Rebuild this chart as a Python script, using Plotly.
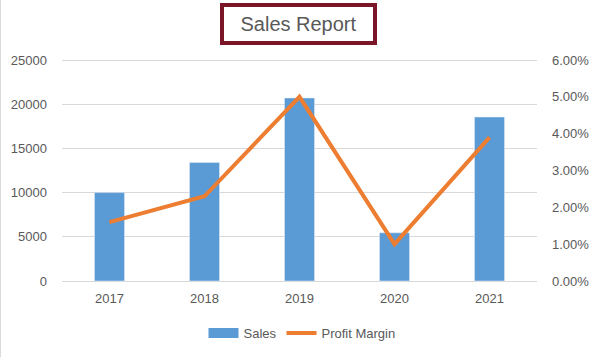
import plotly.graph_objects as go

years = ["2017", "2018", "2019", "2020", "2021"]
sales = [10000, 13400, 20700, 5450, 18550]
profit_margin = [0.016, 0.023, 0.050, 0.010, 0.039]
left_ticks = [0, 5000, 10000, 15000, 20000, 25000]
right_ticks = [0, 0.01, 0.02, 0.03, 0.04, 0.05, 0.06]

FONT = "Liberation Sans"
GRAY = "#595959"
BLUE = "#5B9BD5"
ORANGE = "#ED7D31"

fig = go.Figure()
fig.add_trace(go.Bar(x=years, y=sales, name="Sales", marker_color=BLUE,
                     width=0.316, yaxis="y", showlegend=False, legendgroup="s"))
# legend swatch for Sales drawn as a wide rectangle (Excel style)
fig.add_trace(go.Scatter(x=[None], y=[None], name="Sales", mode="lines",
                         line=dict(color=BLUE, width=10), legendgroup="s"))
fig.add_trace(go.Scatter(x=years, y=profit_margin, name="Profit Margin", mode="lines",
                         line=dict(color=ORANGE, width=4), yaxis="y2"))

# plot area padded by 2px top/bottom so the edge gridlines are kept
PH = 225
pad1 = 2 * 25000 / 221
pad2 = 2 * 0.06 / 221

fig.update_layout(
    width=600, height=357,
    margin=dict(l=62, r=63, t=58, b=74, autoexpand=False),
    paper_bgcolor="white", plot_bgcolor="white",
    font=dict(family=FONT, size=13, color=GRAY),
    showlegend=True,
    legend=dict(orientation="h", x=(302 - 62) / 475, xanchor="center", y=-35 / PH,
                yanchor="top", font=dict(size=13, color=GRAY), itemwidth=30,
                tracegroupgap=0),
    xaxis=dict(showgrid=False, showline=False, ticks="", automargin=False,
               ticklabelstandoff=6, tickfont=dict(size=13, color=GRAY)),
    yaxis=dict(range=[-pad1, 25000 + pad1], tickvals=left_ticks,
               ticktext=[str(v) for v in left_ticks], automargin=False,
               showgrid=True, gridcolor="#D9D9D9", gridwidth=1, zeroline=False,
               showline=False, ticks="", ticklabelstandoff=14),
    yaxis2=dict(range=[-pad2, 0.06 + pad2], tickvals=right_ticks,
                ticktext=[f"{v*100:.2f}%" for v in right_ticks], automargin=False,
                overlaying="y", side="right", showgrid=False, zeroline=False,
                showline=False, ticks="", ticklabelstandoff=14),
)

fig.add_annotation(
    text="Sales Report", xref="paper", yref="paper",
    x=(298.5 - 62) / 475, xanchor="center", y=1 + (58 - 24) / PH, yanchor="middle",
    showarrow=False, font=dict(family=FONT, size=20, color=GRAY),
    bordercolor="#7B1628", borderwidth=4, borderpad=0,
    width=149, height=34, bgcolor="white",
)

# light chart border on the left
fig.add_shape(type="line", xref="paper", yref="paper",
              x0=-61.5 / 475, x1=-61.5 / 475, y0=-74 / PH, y1=1 + 58 / PH,
              line=dict(color="#D9D9D9", width=1))

fig.write_html("out.html", config={"displayModeBar": False},
               post_script="document.body.style.margin='0';document.body.style.padding='0';")
